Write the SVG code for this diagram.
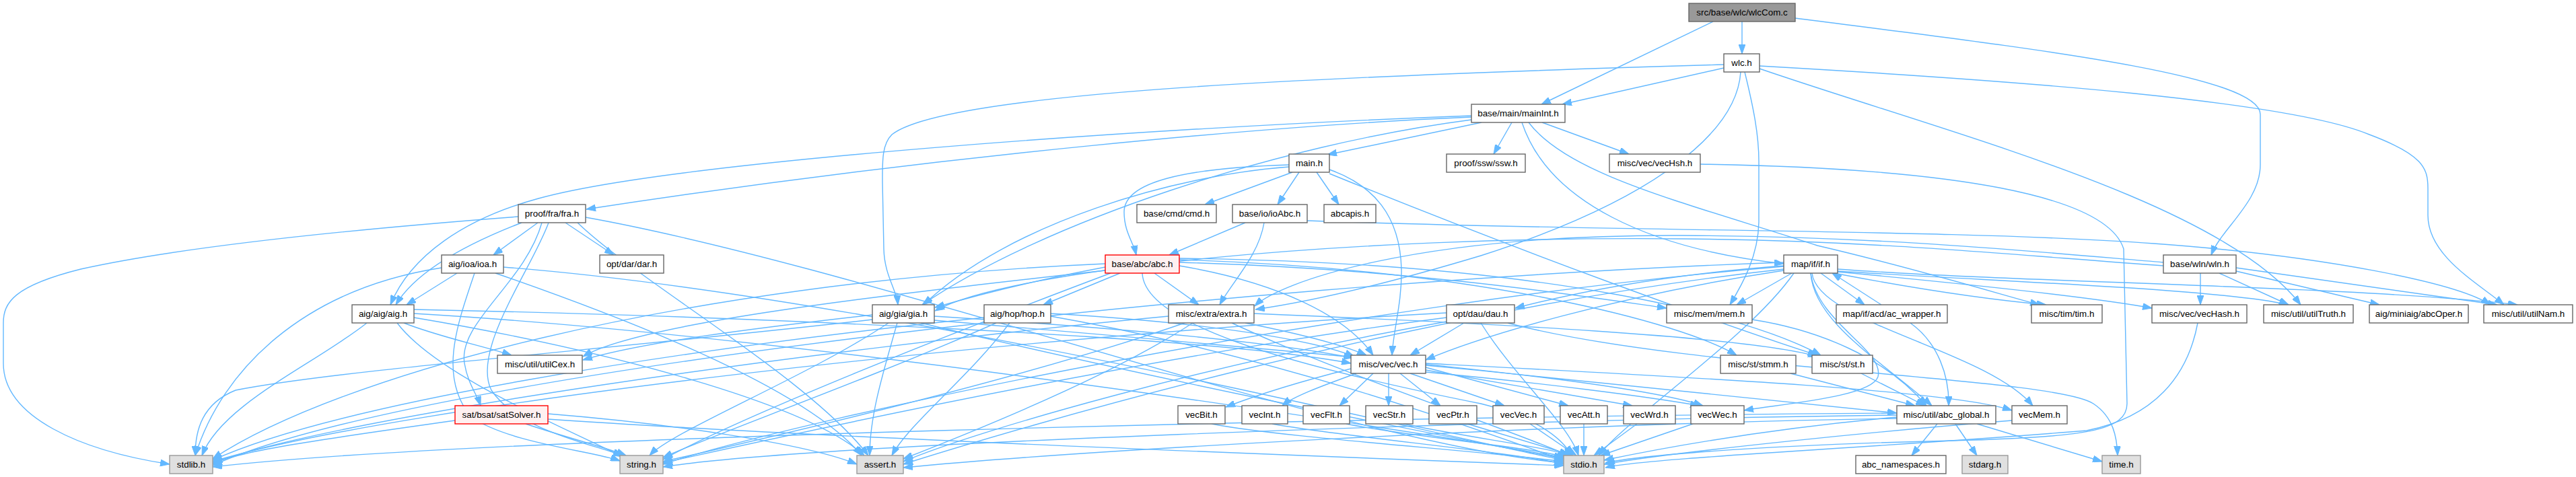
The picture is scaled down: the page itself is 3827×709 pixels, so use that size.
<svg xmlns="http://www.w3.org/2000/svg" width="3827" height="709" viewBox="0 0 3827 709">
<style>
.e path{fill:none;stroke:#63b8ff;stroke-width:1.4;marker-end:url(#ah)}
.nd rect{fill:#ffffff;stroke:#666666;stroke-width:1.4}
.nd text{font-family:"Liberation Sans",Arial,sans-serif;font-size:13.4px;fill:#000000;text-anchor:middle}
.nd.root rect{fill:#999999;stroke:#666666}
.nd.ext rect{fill:#e0e0e0;stroke:#999999}
.nd.trunc rect{fill:#fff0f0;stroke:#ff0000}
</style>
<defs>
<marker id="ah" markerUnits="userSpaceOnUse" viewBox="0 0 14 10" markerWidth="14" markerHeight="10" refX="14" refY="5" orient="auto">
<path d="M0,0 L14,5 L0,10 z" fill="#63b8ff" stroke="#63b8ff" stroke-width="1"/>
</marker>
</defs>
<rect x="0" y="0" width="3827" height="709" fill="#ffffff"/>
<g id="edges" class="e">
<path d="M2588,32 L2588,80"/>
<path d="M2545,32 L2290,155"/>
<path d="M2667,27 C3000,70 3358,110 3358,170 L3358,245 C3358,300 3300,340 3285,379"/>
<path d="M2561,101 L2321,155"/>
<path d="M2561,96 C1900,115 1400,140 1325,200 C1310,215 1311,240 1311,270 L1313,370 C1314,410 1332,430 1334,453"/>
<path d="M2586,107 C2580,200 2450,300 2200,380 C2000,440 1900,455 1865,460"/>
<path d="M2614,98 C3000,120 3400,150 3520,200 C3600,230 3607,250 3607,280 L3607,320 C3607,380 3680,420 3720,453"/>
<path d="M2592,107 C2605,160 2613,200 2613,240 L2613,330 C2612,380 2590,420 2570,453"/>
<path d="M2614,102 C2900,200 3300,300 3418,453"/>
<path d="M2201,182 L1972,230"/>
<path d="M2246,182 L2219,229"/>
<path d="M2291,182 L2420,229"/>
<path d="M2186,174 C1900,186 1400,230 871,311"/>
<path d="M2186,172 C1700,190 1000,240 800,295 C690,325 610,380 580,453"/>
<path d="M2186,178 C1900,215 1550,330 1370,453"/>
<path d="M2271,182 C2330,260 2500,300 2700,365 C2850,400 2980,440 3030,453"/>
<path d="M2261,182 C2300,300 2450,370 2650,392"/>
<path d="M1920,256 L1790,304"/>
<path d="M1930,256 L1898,304"/>
<path d="M1956,256 L1989,304"/>
<path d="M1915,245 C1760,250 1670,270 1670,315 C1670,345 1684,360 1688,379"/>
<path d="M1915,248 C1750,260 1500,330 1372,453"/>
<path d="M1975,252 C2040,275 2080,320 2082,400 C2083,450 2070,490 2068,528"/>
<path d="M1975,258 C2250,370 2550,480 2700,528"/>
<path d="M1850,331 L1737,379"/>
<path d="M1878,331 C1870,380 1830,420 1812,453"/>
<path d="M1942,328 C2400,345 2900,340 3200,362 C3450,380 3650,420 3700,453"/>
<path d="M2526,244 C2900,250 3130,290 3155,370 L3160,600 C3160,640 3100,650 2900,655 C2600,662 2430,678 2385,688"/>
<path d="M3265,480 C3250,560 3200,620 3100,640 C2800,665 2450,680 2385,695"/>
<path d="M799,331 L733,379"/>
<path d="M840,331 L912,379"/>
<path d="M775,331 C700,360 620,400 588,453"/>
<path d="M770,322 C600,335 300,360 120,400 C20,425 5,450 5,480 L5,540 C5,620 120,670 252,690"/>
<path d="M805,331 C780,420 680,480 690,540 C695,570 708,585 714,603"/>
<path d="M815,331 C790,400 700,520 730,580 C770,640 880,660 925,677"/>
<path d="M858,331 C950,420 1200,560 1290,677"/>
<path d="M870,323 C1300,400 2000,660 2323,688"/>
<path d="M679,406 L604,453"/>
<path d="M656,398 C450,430 330,550 290,677"/>
<path d="M705,406 C680,480 650,560 700,620 C760,660 880,670 921,685"/>
<path d="M736,406 C950,480 1200,580 1280,677"/>
<path d="M748,397 C1300,440 2100,640 2323,684"/>
<path d="M676,625 C500,650 350,670 316,690"/>
<path d="M781,630 C840,650 900,665 930,677"/>
<path d="M814,615 C1000,630 1200,660 1273,690"/>
<path d="M814,623 C1200,650 2000,680 2323,692"/>
<path d="M545,480 C470,540 330,600 300,677"/>
<path d="M590,480 C650,560 850,640 925,679"/>
<path d="M615,472 C900,520 1200,600 1284,677"/>
<path d="M615,466 C1200,500 2100,640 2323,680"/>
<path d="M615,460 C1100,470 1800,500 2007,540"/>
<path d="M600,480 C650,500 720,515 760,528"/>
<path d="M1296,475 C900,520 500,550 350,580 C300,600 290,640 290,677"/>
<path d="M1320,480 C1200,560 1000,640 965,677"/>
<path d="M1333,480 C1310,560 1292,620 1292,677"/>
<path d="M1368,480 C1700,560 2100,640 2323,682"/>
<path d="M1388,470 C1700,490 1900,510 2010,532"/>
<path d="M1388,476 C1900,520 2400,560 2530,603"/>
<path d="M1296,468 C1100,490 950,510 866,535"/>
<path d="M1462,472 C1000,520 500,600 316,684"/>
<path d="M1480,480 C1300,560 1050,650 985,680"/>
<path d="M1500,480 C1440,560 1350,630 1325,677"/>
<path d="M1561,470 C1900,530 2200,640 2323,684"/>
<path d="M1561,466 C1800,480 1950,505 2012,530"/>
<path d="M1736,470 C1200,520 500,620 316,688"/>
<path d="M1760,480 C1500,570 1100,660 985,686"/>
<path d="M1772,480 C1650,560 1450,640 1342,682"/>
<path d="M1830,480 C2000,560 2250,640 2330,677"/>
<path d="M1863,466 C2200,480 2600,500 2700,530"/>
<path d="M1850,480 C1950,500 2000,515 2030,528"/>
<path d="M1664,406 L1550,453"/>
<path d="M1642,397 C1520,420 1430,445 1389,457"/>
<path d="M1715,406 L1781,453"/>
<path d="M1642,392 C1000,420 500,560 316,682"/>
<path d="M1650,406 C1400,500 1100,620 985,683"/>
<path d="M1697,406 C1700,480 1900,540 2200,600 C2280,620 2320,650 2335,677"/>
<path d="M1752,395 C1900,420 2000,470 2040,528"/>
<path d="M1642,402 C1300,440 950,480 866,530"/>
<path d="M1752,390 C2100,400 2350,440 2476,458"/>
<path d="M1752,386 C2200,400 2500,480 2580,528"/>
<path d="M1752,384 C2300,390 2600,470 2705,528"/>
<path d="M2175,480 L2095,528"/>
<path d="M2149,465 C1500,500 600,600 316,686"/>
<path d="M2149,472 C1700,530 1200,640 985,688"/>
<path d="M2149,478 C1800,540 1450,640 1342,686"/>
<path d="M2200,480 C2250,560 2330,630 2345,677"/>
<path d="M2240,480 C2500,550 3050,560 3110,600 C3140,620 3145,650 3146,677"/>
<path d="M2650,390 C1800,420 600,560 316,692"/>
<path d="M2650,396 C2000,450 1200,620 985,690"/>
<path d="M2650,400 C2100,460 1500,640 1342,690"/>
<path d="M2665,406 C2600,500 2420,620 2375,677"/>
<path d="M2650,402 C2400,440 2200,500 2118,535"/>
<path d="M2662,406 L2580,453"/>
<path d="M2725,406 C2850,430 2950,445 3040,453"/>
<path d="M2730,400 C3000,420 3500,425 3740,453"/>
<path d="M2692,406 C2700,480 2950,520 3020,603"/>
<path d="M2730,403 C3000,420 3300,430 3400,453"/>
<path d="M2650,395 C2450,410 2320,440 2251,458"/>
<path d="M2730,404 C2900,420 3100,440 3197,458"/>
<path d="M2690,406 C2700,480 2800,520 2790,560 C2780,590 2650,600 2591,610"/>
<path d="M2705,406 L2770,453"/>
<path d="M2690,406 C2695,480 2800,540 2870,603"/>
<path d="M2795,453 L2722,406"/>
<path d="M2838,480 C2880,510 2896,560 2895,603"/>
<path d="M2603,475 C2700,490 2800,530 2862,603"/>
<path d="M2660,555 L2845,603"/>
<path d="M2765,555 L2860,603"/>
<path d="M2007,548 C1920,570 1860,590 1821,605"/>
<path d="M2015,555 C1960,575 1920,590 1905,603"/>
<path d="M2040,555 L1990,603"/>
<path d="M2063,555 L2063,603"/>
<path d="M2080,555 L2140,603"/>
<path d="M2095,555 L2235,603"/>
<path d="M2118,546 L2330,603"/>
<path d="M2118,550 L2425,603"/>
<path d="M2118,553 C2300,570 2450,590 2525,603"/>
<path d="M2118,540 C2500,560 2900,580 2989,610"/>
<path d="M2118,543 C2400,570 2700,600 2818,614"/>
<path d="M1800,630 C1900,650 2200,670 2323,686"/>
<path d="M1890,630 C2000,650 2250,672 2323,690"/>
<path d="M2000,630 C2100,650 2280,665 2327,680"/>
<path d="M2085,630 C2180,650 2300,665 2332,677"/>
<path d="M2180,630 L2337,677"/>
<path d="M2273,630 L2342,677"/>
<path d="M2353,630 L2353,677"/>
<path d="M2432,630 L2368,677"/>
<path d="M2515,630 L2378,677"/>
<path d="M2989,625 C2800,640 2500,670 2383,690"/>
<path d="M2878,630 L2840,677"/>
<path d="M2905,630 L2937,677"/>
<path d="M2937,630 L3123,686"/>
<path d="M2818,620 C2600,640 2450,670 2383,684"/>
<path d="M2818,614 C2000,620 700,650 316,694"/>
<path d="M2818,617 C2200,625 1200,660 985,694"/>
<path d="M2818,622 C2300,630 1600,670 1342,695"/>
<path d="M3269,406 L3269,453"/>
<path d="M3297,406 L3400,453"/>
<path d="M3322,403 L3535,453"/>
<path d="M3322,398 L3710,453"/>
<path d="M3214,395 C3000,380 2800,358 2500,355 C2000,350 1500,400 1389,462"/>
<path d="M3214,390 C3000,372 2800,352 2500,350 C2100,348 1900,420 1864,455"/>
</g>
<g id="n_wlcCom" class="nd root"><rect x="2509" y="5" width="158" height="27"/><text x="2588" y="23.3">src/base/wlc/wlcCom.c</text></g>
<g id="n_wlc" class="nd"><rect x="2561" y="80" width="53" height="27"/><text x="2587.5" y="98.3">wlc.h</text></g>
<g id="n_mainInt" class="nd"><rect x="2186" y="155" width="139" height="27"/><text x="2255.5" y="173.3">base/main/mainInt.h</text></g>
<g id="n_main" class="nd"><rect x="1915" y="229" width="60" height="27"/><text x="1945" y="247.3">main.h</text></g>
<g id="n_ssw" class="nd"><rect x="2149" y="229" width="117" height="27"/><text x="2207.5" y="247.3">proof/ssw/ssw.h</text></g>
<g id="n_vecHsh" class="nd"><rect x="2391" y="229" width="135" height="27"/><text x="2458.5" y="247.3">misc/vec/vecHsh.h</text></g>
<g id="n_fra" class="nd"><rect x="770" y="304" width="100" height="27"/><text x="820" y="322.3">proof/fra/fra.h</text></g>
<g id="n_cmd" class="nd"><rect x="1689" y="304" width="118" height="27"/><text x="1748" y="322.3">base/cmd/cmd.h</text></g>
<g id="n_ioAbc" class="nd"><rect x="1831" y="304" width="111" height="27"/><text x="1886.5" y="322.3">base/io/ioAbc.h</text></g>
<g id="n_abcapis" class="nd"><rect x="1967" y="304" width="77" height="27"/><text x="2005.5" y="322.3">abcapis.h</text></g>
<g id="n_ioa" class="nd"><rect x="656" y="379" width="92" height="27"/><text x="702" y="397.3">aig/ioa/ioa.h</text></g>
<g id="n_dar" class="nd"><rect x="891" y="379" width="95" height="27"/><text x="938.5" y="397.3">opt/dar/dar.h</text></g>
<g id="n_abc" class="nd trunc"><rect x="1642" y="379" width="110" height="27"/><text x="1697" y="397.3">base/abc/abc.h</text></g>
<g id="n_if" class="nd"><rect x="2650" y="379" width="80" height="27"/><text x="2690" y="397.3">map/if/if.h</text></g>
<g id="n_wln" class="nd"><rect x="3214" y="379" width="108" height="27"/><text x="3268" y="397.3">base/wln/wln.h</text></g>
<g id="n_aig" class="nd"><rect x="523" y="453" width="92" height="27"/><text x="569" y="471.3">aig/aig/aig.h</text></g>
<g id="n_gia" class="nd"><rect x="1296" y="453" width="92" height="27"/><text x="1342" y="471.3">aig/gia/gia.h</text></g>
<g id="n_hop" class="nd"><rect x="1462" y="453" width="99" height="27"/><text x="1511.5" y="471.3">aig/hop/hop.h</text></g>
<g id="n_extra" class="nd"><rect x="1736" y="453" width="127" height="27"/><text x="1799.5" y="471.3">misc/extra/extra.h</text></g>
<g id="n_dau" class="nd"><rect x="2149" y="453" width="101" height="27"/><text x="2199.5" y="471.3">opt/dau/dau.h</text></g>
<g id="n_mem" class="nd"><rect x="2476" y="453" width="127" height="27"/><text x="2539.5" y="471.3">misc/mem/mem.h</text></g>
<g id="n_acw" class="nd"><rect x="2728" y="453" width="165" height="27"/><text x="2810.5" y="471.3">map/if/acd/ac_wrapper.h</text></g>
<g id="n_tim" class="nd"><rect x="3018" y="453" width="105" height="27"/><text x="3070.5" y="471.3">misc/tim/tim.h</text></g>
<g id="n_vecHash" class="nd"><rect x="3197" y="453" width="141" height="27"/><text x="3267.5" y="471.3">misc/vec/vecHash.h</text></g>
<g id="n_utilTruth" class="nd"><rect x="3363" y="453" width="133" height="27"/><text x="3429.5" y="471.3">misc/util/utilTruth.h</text></g>
<g id="n_abcOper" class="nd"><rect x="3520" y="453" width="147" height="27"/><text x="3593.5" y="471.3">aig/miniaig/abcOper.h</text></g>
<g id="n_utilNam" class="nd"><rect x="3690" y="453" width="132" height="27"/><text x="3756" y="471.3">misc/util/utilNam.h</text></g>
<g id="n_utilCex" class="nd"><rect x="739" y="528" width="126" height="27"/><text x="802" y="546.3">misc/util/utilCex.h</text></g>
<g id="n_vec" class="nd"><rect x="2007" y="528" width="111" height="27"/><text x="2062.5" y="546.3">misc/vec/vec.h</text></g>
<g id="n_stmm" class="nd"><rect x="2556" y="528" width="112" height="27"/><text x="2612" y="546.3">misc/st/stmm.h</text></g>
<g id="n_st" class="nd"><rect x="2692" y="528" width="90" height="27"/><text x="2737" y="546.3">misc/st/st.h</text></g>
<g id="n_satSolver" class="nd trunc"><rect x="676" y="603" width="138" height="27"/><text x="745" y="621.3">sat/bsat/satSolver.h</text></g>
<g id="n_vecBit" class="nd"><rect x="1750" y="603" width="70" height="27"/><text x="1785" y="621.3">vecBit.h</text></g>
<g id="n_vecInt" class="nd"><rect x="1845" y="603" width="68" height="27"/><text x="1879" y="621.3">vecInt.h</text></g>
<g id="n_vecFlt" class="nd"><rect x="1936" y="603" width="69" height="27"/><text x="1970.5" y="621.3">vecFlt.h</text></g>
<g id="n_vecStr" class="nd"><rect x="2029" y="603" width="70" height="27"/><text x="2064" y="621.3">vecStr.h</text></g>
<g id="n_vecPtr" class="nd"><rect x="2123" y="603" width="71" height="27"/><text x="2158.5" y="621.3">vecPtr.h</text></g>
<g id="n_vecVec" class="nd"><rect x="2218" y="603" width="76" height="27"/><text x="2256" y="621.3">vecVec.h</text></g>
<g id="n_vecAtt" class="nd"><rect x="2318" y="603" width="70" height="27"/><text x="2353" y="621.3">vecAtt.h</text></g>
<g id="n_vecWrd" class="nd"><rect x="2412" y="603" width="77" height="27"/><text x="2450.5" y="621.3">vecWrd.h</text></g>
<g id="n_vecWec" class="nd"><rect x="2512" y="603" width="79" height="27"/><text x="2551.5" y="621.3">vecWec.h</text></g>
<g id="n_abc_global" class="nd"><rect x="2818" y="603" width="147" height="27"/><text x="2891.5" y="621.3">misc/util/abc_global.h</text></g>
<g id="n_vecMem" class="nd"><rect x="2989" y="603" width="82" height="27"/><text x="3030" y="621.3">vecMem.h</text></g>
<g id="n_stdlib" class="nd ext"><rect x="252" y="677" width="64" height="27"/><text x="284" y="695.3">stdlib.h</text></g>
<g id="n_string" class="nd ext"><rect x="921" y="677" width="64" height="27"/><text x="953" y="695.3">string.h</text></g>
<g id="n_assert" class="nd ext"><rect x="1273" y="677" width="69" height="27"/><text x="1307.5" y="695.3">assert.h</text></g>
<g id="n_stdio" class="nd ext"><rect x="2323" y="677" width="60" height="27"/><text x="2353" y="695.3">stdio.h</text></g>
<g id="n_abc_namespaces" class="nd"><rect x="2757" y="677" width="134" height="27"/><text x="2824" y="695.3">abc_namespaces.h</text></g>
<g id="n_stdarg" class="nd ext"><rect x="2915" y="677" width="68" height="27"/><text x="2949" y="695.3">stdarg.h</text></g>
<g id="n_time" class="nd ext"><rect x="3123" y="677" width="57" height="27"/><text x="3151.5" y="695.3">time.h</text></g>
</svg>
